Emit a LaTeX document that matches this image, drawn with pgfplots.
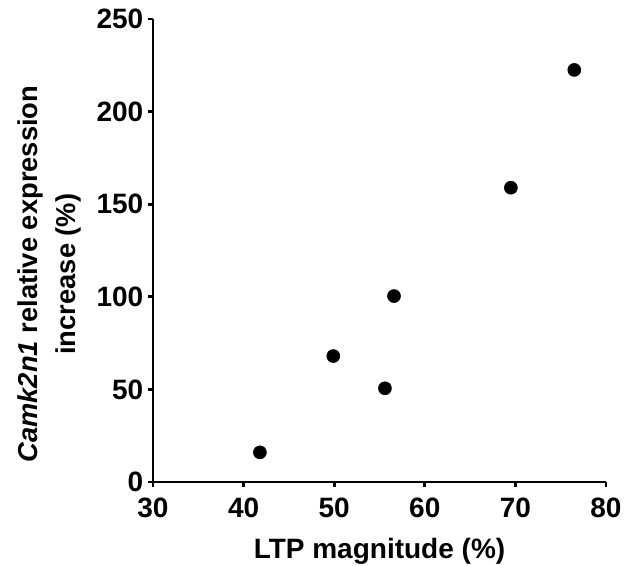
\documentclass[border=0pt]{standalone}
\usepackage{pgfplots}
\pgfplotsset{compat=1.18}
\usepackage{fontspec}
\setmainfont{Liberation Sans}
\begin{document}
\begin{tikzpicture}
\begin{axis}[
  name=ax,
  scale only axis,
  width=339.75pt, height=347.25pt,
  xmin=30, xmax=80, ymin=0, ymax=250,
  axis lines*=left,
  axis line style={line width=2pt, black},
  every tick/.style={line width=2pt, black},
  major tick length=3.75pt,
  tick align=outside,
  xtick={30,40,50,60,70,80},
  ytick={0,50,100,150,200,250},
  /pgf/number format/assume math mode=true,
  ticklabel style={font=\fontsize{21}{24}\selectfont\bfseries},
  xticklabel style={yshift=-5pt},
  clip=false,
  xlabel={LTP magnitude (\%)},
  xlabel style={font=\fontsize{21}{24}\selectfont\bfseries, at={(axis description cs:0.5,-0.166)}, anchor=base, inner sep=0pt},
  ylabel={\textit{Camk2n1} relative expression\\increase (\%)},
  ylabel style={font=\fontsize{20.5}{28.5}\selectfont\bfseries, align=center, at={(axis description cs:-0.159,0.449)}, anchor=south, inner sep=0pt, rotate=0},
]
\addplot[only marks, mark=*, mark size=4.9pt, black] coordinates {
  (41.8,16) (49.9,68) (55.6,50.6) (56.6,100.4) (69.5,158.9) (76.5,222.5)
};
\end{axis}
\pgfresetboundingbox
\path[use as bounding box] (ax.south west) ++(-114.75pt,-63pt) rectangle ++(475.5pt,424.5pt);
\end{tikzpicture}
\end{document}
